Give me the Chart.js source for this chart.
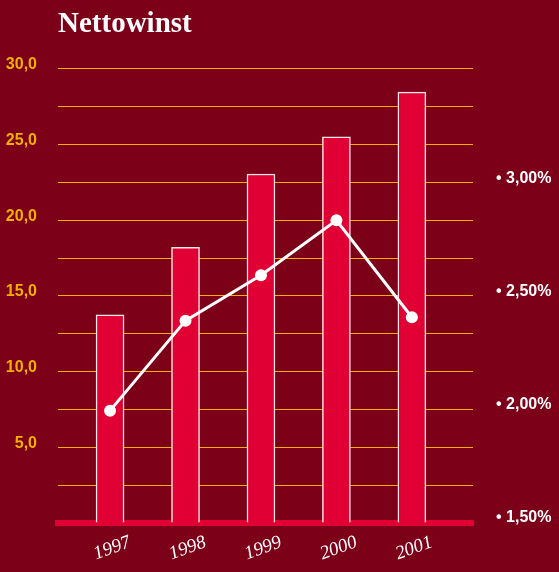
<!DOCTYPE html>
<html>
<head>
<meta charset="utf-8">
<script src="https://cdn.jsdelivr.net/npm/chart.js@4"></script>
<style>
  html, body { margin: 0; padding: 0; background: #7d0019; }
  #wrap { width: 559px; height: 572px; }
</style>
</head>
<body>
<div id="wrap"><canvas id="chart" width="559" height="572"></canvas></div>
<script>
// Gegevens
const years = ["1997", "1998", "1999", "2000", "2001"];
const nettowinst = [13.75, 18.2, 23.05, 25.5, 28.46];
const marge = [1.975, 2.373, 2.574, 2.817, 2.388];
const leftTicks = [0, 2.5, 5, 7.5, 10, 12.5, 15, 17.5, 20, 22.5, 25, 27.5, 30];
const rightTicks = [1.5, 2.0, 2.5, 3.0];

const gold = "#f0b000";
const red = "#e00033";

const ctx = document.getElementById("chart").getContext("2d");
new Chart(ctx, {
  data: {
    datasets: [
      {
        type: "line",
        label: "Marge",
        data: marge.map((v, i) => ({ x: i, y: v })),
        yAxisID: "y2",
        borderColor: "#ffffff",
        borderWidth: 3,
        pointRadius: 6,
        pointBackgroundColor: "#ffffff",
        pointBorderWidth: 0,
        order: 0
      },
      {
        type: "bar",
        label: "Nettowinst",
        data: nettowinst.map((v, i) => ({ x: i, y: v })),
        yAxisID: "y",
        backgroundColor: red,
        borderColor: "#ffe6ea",
        borderWidth: 1.5,
        barThickness: 28,
        order: 1
      }
    ]
  },
  options: {
    responsive: false,
    animation: false,
    layout: { padding: 0 },
    plugins: {
      legend: { display: false },
      tooltip: { enabled: false },
      title: {
        display: true,
        text: "Nettowinst",
        align: "start",
        fullSize: false,
        color: "#ffffff",
        font: { family: "Liberation Serif", size: 29, weight: "bold" },
        padding: { top: 7, bottom: 27 }
      }
    },
    scales: {
      x: {
        type: "linear",
        offset: false,
        min: -0.69,
        max: 4.81,
        afterBuildTicks: (s) => { s.ticks = years.map((y, i) => ({ value: i })); },
        afterFit: (s) => { s.height = 49; },
        grid: { display: false, drawTicks: false },
        border: { display: true, color: red, width: 6 },
        ticks: {
          callback: (v) => years[v],
          color: "#ffffff",
          font: { family: "Liberation Serif", size: 19, style: "italic" },
          minRotation: 20,
          maxRotation: 20,
          labelOffset: 20,
          padding: 8
        }
      },
      y: {
        position: "left",
        min: 0,
        max: 30,
        afterBuildTicks: (s) => { s.ticks = leftTicks.map(v => ({ value: v })); },
        afterFit: (s) => { s.width = 58; },
        grid: { color: gold, lineWidth: 1, drawTicks: false },
        border: { display: false },
        ticks: {
          callback: (v) => (v % 5 === 0 && v > 0) ? v.toFixed(1).replace(".", ",") : "",
          color: gold,
          font: { family: "Liberation Sans", size: 16, weight: "bold" },
          labelOffset: -4,
          padding: 21
        }
      },
      y2: {
        position: "right",
        min: 1.478,
        max: 3.487,
        afterBuildTicks: (s) => { s.ticks = rightTicks.map(v => ({ value: v })); },
        afterFit: (s) => { s.width = 86; },
        grid: { display: false, drawTicks: false },
        border: { display: false },
        ticks: {
          callback: (v) => "\u2022 " + v.toFixed(2).replace(".", ",") + "%",
          color: "#ffffff",
          font: { family: "Liberation Sans", size: 16, weight: "bold" },
          padding: 23
        }
      }
    }
  }
});
</script>
</body>
</html>
